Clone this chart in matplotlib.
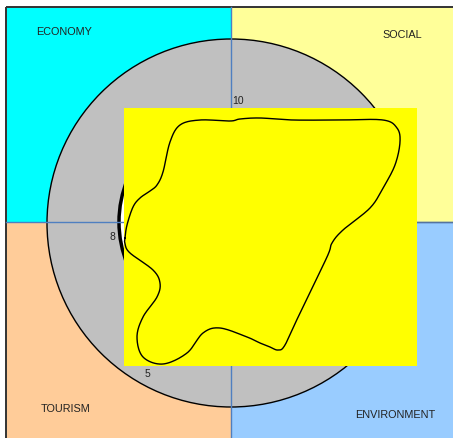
import numpy as np
import matplotlib
matplotlib.use("Agg")
import matplotlib.pyplot as plt
from matplotlib.patches import Rectangle, Circle

plt.rcParams['font.family'] = ['Liberation Sans', 'DejaVu Sans']

# quadrant labels and colours
quadrants = ["ECONOMY", "SOCIAL", "TOURISM", "ENVIRONMENT"]
quad_colors = ["#00FFFF", "#FFFF99", "#FFCC99", "#99CCFF"]

# scale labels
scale_labels = ["10", "8", "5"]

# outline of the shape (picture coordinates, y down)
blob_x = [125, 127, 133, 140, 150, 157, 163, 170, 180, 200, 230, 240, 260, 293,
          340, 383, 397, 400, 395, 383, 370, 343, 332, 327, 300, 285, 278, 270,
          260, 247, 220, 203, 187, 163, 143, 137, 143, 157, 160, 153, 130, 125]
blob_y = [238, 225, 207, 198, 191, 185, 172, 142, 125, 120, 121, 119, 118, 120,
          120, 120, 128, 142, 165, 188, 208, 230, 243, 257, 313, 345, 350, 347,
          343, 337, 328, 333, 353, 364, 357, 337, 317, 297, 283, 270, 253, 244]


def smooth_closed(x, y, n=20):
    # closed catmull-rom, like a "smoothed line" in a spreadsheet chart
    p = np.column_stack([x, y]).astype(float)
    m = len(p)
    out = []
    t = np.linspace(0, 1, n, endpoint=False)[:, None]
    for i in range(m):
        p0, p1, p2, p3 = p[i - 1], p[i], p[(i + 1) % m], p[(i + 2) % m]
        seg = 0.5 * ((2 * p1) + (-p0 + p2) * t + (2 * p0 - 5 * p1 + 4 * p2 - p3) * t**2
                     + (-p0 + 3 * p1 - 3 * p2 + p3) * t**3)
        out.append(seg)
    out = np.vstack(out + [out[0][:1]])
    return out[:, 0], out[:, 1]


fig = plt.figure(figsize=(4.53, 4.38), dpi=100)
ax = fig.add_axes([0, 0, 1, 1])
ax.set_xlim(0, 453)
ax.set_ylim(438, 0)
ax.axis("off")

cx, cy = 231, 222
left, top, right, bottom = 6, 7, 460, 445

# quadrants
ax.add_patch(Rectangle((left, top), cx - left, cy - top, fc=quad_colors[0], ec="none", zorder=1))
ax.add_patch(Rectangle((cx, top), right - cx, cy - top, fc=quad_colors[1], ec="none", zorder=1))
ax.add_patch(Rectangle((left, cy), cx - left, bottom - cy, fc=quad_colors[2], ec="none", zorder=1))
ax.add_patch(Rectangle((cx, cy), right - cx, bottom - cy, fc=quad_colors[3], ec="none", zorder=1))
ax.add_patch(Rectangle((left, top), right - left, bottom - top, fc="none", ec="#333333", lw=1.4, zorder=1.1))

# rings
ax.add_patch(Circle((cx, cy + 1), 184, fc="#C0C0C0", ec="black", lw=1.0, zorder=1.5))
ax.add_patch(Circle((cx, cy), 112, fc="white", ec="black", lw=2.5, zorder=1.6))

# dividers
ax.plot([left, right], [cy, cy], color="#4F7FC0", lw=1.0, zorder=2)
ax.plot([cx, cx], [top, bottom], color="#4F7FC0", lw=1.0, zorder=2)
ax.plot([cx, right], [cy - 0.5, cy - 0.5], color="#56739C", lw=1.0, zorder=2)

# plot area
ax.add_patch(Rectangle((124, 108), 293, 258, fc="#FFFF00", ec="none", zorder=3))

bx, by = smooth_closed(blob_x, blob_y)
ax.plot(bx, by, color="black", lw=1.0, zorder=4)

# texts
lab_pos = [(64, 32), (402, 35), (66, 409), (395, 415)]
for lab, (x, y) in zip(quadrants, lab_pos):
    ax.text(x, y, lab, ha="center", va="center", fontsize=7.8, color="#222222", zorder=5)

scale_pos = [(232, 101, "left"), (112, 237, "center"), (147, 374, "center")]
for lab, (x, y, ha) in zip(scale_labels, scale_pos):
    ax.text(x, y, lab, ha=ha, va="center", fontsize=7.5, color="#222222", zorder=5)

fig.savefig("out.png", dpi=100)
